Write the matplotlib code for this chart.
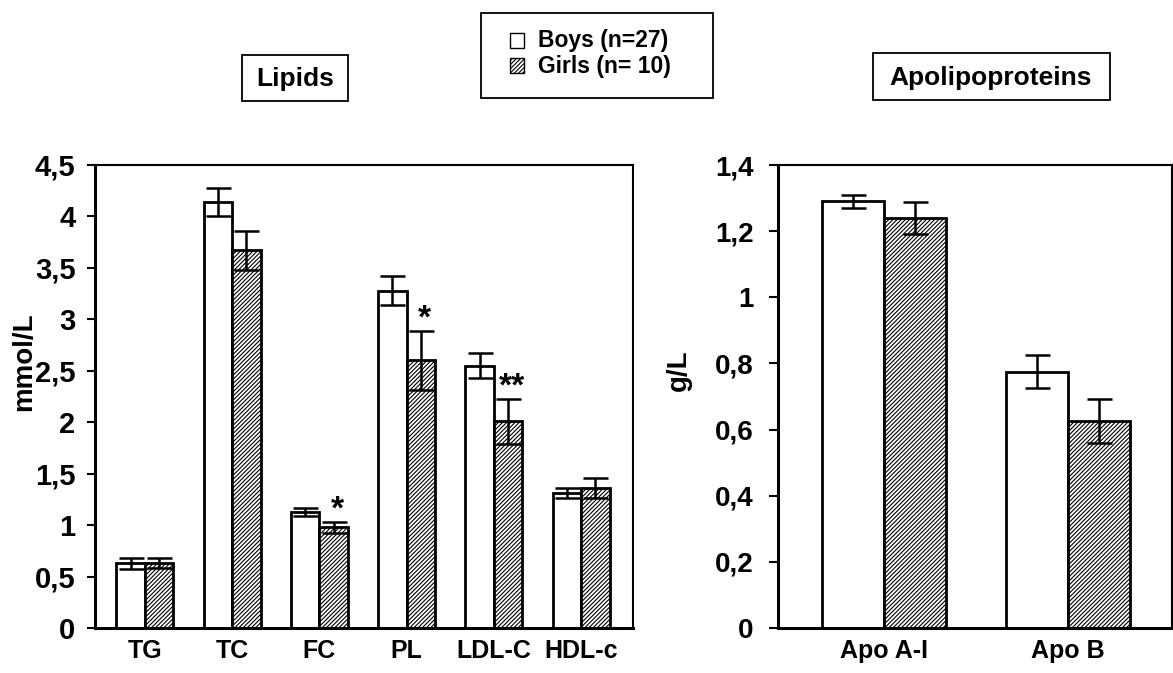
import matplotlib.pyplot as plt
import numpy as np
from matplotlib.patches import Rectangle

plt.rcParams['font.family'] = ['Liberation Sans', 'DejaVu Sans']
plt.rcParams['font.weight'] = 'bold'
plt.rcParams['hatch.linewidth'] = 0.8

lipid_cats = ['TG', 'TC', 'FC', 'PL', 'LDL-C', 'HDL-c']
lipid_boys = [0.63, 4.14, 1.13, 3.28, 2.55, 1.31]
lipid_boys_err = [0.055, 0.135, 0.04, 0.14, 0.12, 0.05]
lipid_girls = [0.63, 3.67, 0.98, 2.60, 2.01, 1.36]
lipid_girls_err = [0.05, 0.19, 0.055, 0.29, 0.22, 0.10]
lipid_marks = ['', '', '*', '*', '**', '']

apo_cats = ['Apo A-I', 'Apo B']
apo_boys = [1.29, 0.775]
apo_boys_err = [0.02, 0.05]
apo_girls = [1.24, 0.625]
apo_girls_err = [0.048, 0.067]

lipid_ticks = [0, 0.5, 1, 1.5, 2, 2.5, 3, 3.5, 4, 4.5]
lipid_ticklabels = ['0', '0,5', '1', '1,5', '2', '2,5', '3', '3,5', '4', '4,5']
apo_ticks = [0, 0.2, 0.4, 0.6, 0.8, 1.0, 1.2, 1.4]
apo_ticklabels = ['0', '0,2', '0,4', '0,6', '0,8', '1', '1,2', '1,4']

W, H = 1173, 673
fig = plt.figure(figsize=(11.73, 6.73), dpi=100)
ax1 = fig.add_axes([95/W, 1 - 628/H, (633-95)/W, (628-165)/H])
ax2 = fig.add_axes([778/W, 1 - 628/H, (1172-778)/W, (628-165)/H])

HATCH = '////////'


def draw(ax, cats, boys, boys_err, girls, girls_err, w):
    x = np.arange(len(cats))
    ek = dict(elinewidth=1.8, capthick=1.8)
    ax.bar(x - w/2, boys, w, color='white', edgecolor='black', linewidth=2,
           yerr=boys_err, capsize=9, error_kw=ek)
    ax.bar(x + w/2, girls, w, color='white', edgecolor='black', linewidth=2,
           hatch=HATCH, yerr=girls_err, capsize=9, error_kw=ek)
    ax.set_xticks(x)
    ax.set_xticklabels(cats, fontsize=18, fontweight='bold')
    ax.tick_params(axis='x', length=0, pad=8)
    for s in ['top', 'right']:
        ax.spines[s].set_linewidth(1.5)
    for s in ['left', 'bottom']:
        ax.spines[s].set_linewidth(2.2)
    return x


x1 = draw(ax1, lipid_cats, lipid_boys, lipid_boys_err, lipid_girls, lipid_girls_err, 0.327)
ax1.set_xlim(-0.573, 5.596)
ax1.set_ylim(0, 4.5)
ax1.set_yticks(lipid_ticks)
ax1.set_yticklabels(lipid_ticklabels, fontweight='bold')
ax1.tick_params(axis='y', direction='out', length=6, width=1.5, labelsize=21, pad=8)
ax1.set_ylabel('mmol/L', fontsize=20, fontweight='bold')
ax1.yaxis.set_label_coords(-0.108, 0.575)
for xi, g, e, m in zip(x1, lipid_girls, lipid_girls_err, lipid_marks):
    if m:
        ax1.text(xi + 0.327/2 + 0.04, g + e + 0.11, m, ha='center', va='center',
                 fontsize=24, fontweight='bold')

draw(ax2, apo_cats, apo_boys, apo_boys_err, apo_girls, apo_girls_err, 0.337)
ax2.set_xlim(-0.576, 1.565)
ax2.set_ylim(0, 1.4)
ax2.set_yticks(apo_ticks)
ax2.set_yticklabels(apo_ticklabels, fontweight='bold')
ax2.tick_params(axis='y', direction='out', length=6.5, width=1.5, labelsize=20, pad=11)
ax2.set_ylabel('g/L', fontsize=20, fontweight='bold')
ax2.yaxis.set_label_coords(-0.218, 0.557)


def fig_rect(x0, y0, x1_, y1_, **kw):
    fig.patches.append(Rectangle((x0/W, 1 - y1_/H), (x1_-x0)/W, (y1_-y0)/H,
                                 transform=fig.transFigure, **kw))


# boxed panel titles
fig_rect(242, 55, 348, 101, facecolor='white', edgecolor='black', linewidth=1.3)
fig.text(295/W, 1 - 79/H, 'Lipids', ha='center', va='center', fontsize=19,
         fontweight='bold')
fig_rect(873, 53, 1110, 100, facecolor='white', edgecolor='black', linewidth=1.3)
fig.text(991/W, 1 - 78/H, 'Apolipoproteins', ha='center', va='center', fontsize=19,
         fontweight='bold')

# legend box
fig_rect(481, 13, 713, 98, facecolor='white', edgecolor='black', linewidth=1.3)
fig_rect(510, 33, 524, 48, facecolor='white', edgecolor='black', linewidth=1.0)
fig_rect(510, 58, 524, 73, facecolor='white', edgecolor='black', linewidth=1.0,
         hatch=HATCH)
fig.text(538/W, 1 - 41/H, 'Boys (n=27)', ha='left', va='center', fontsize=16.5,
         fontweight='bold')
fig.text(538/W, 1 - 66/H, 'Girls (n= 10)', ha='left', va='center', fontsize=16.5,
         fontweight='bold')

fig.savefig('out.png', dpi=100)
